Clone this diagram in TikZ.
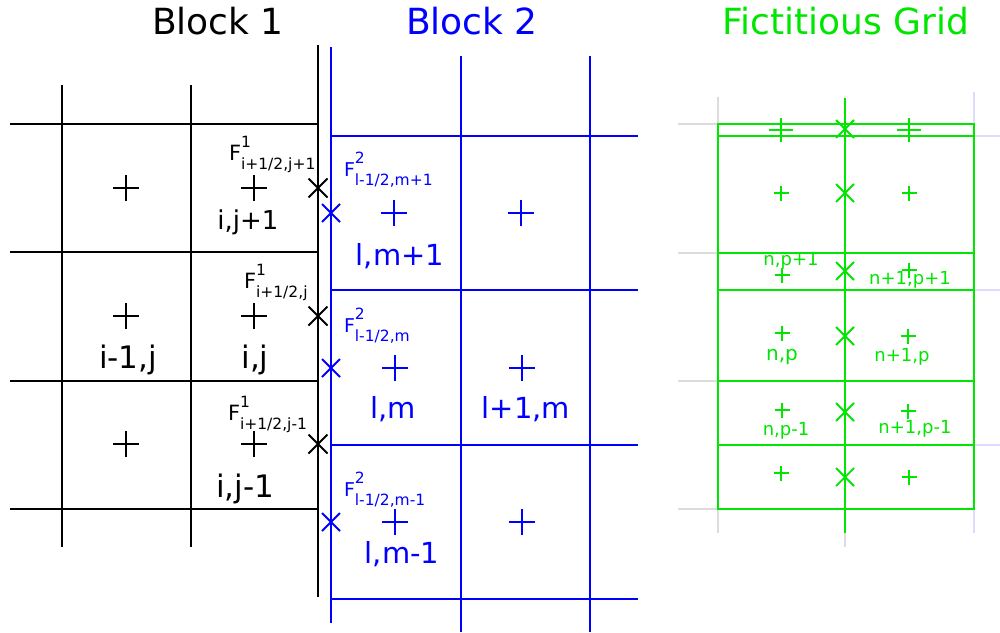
\documentclass[tikz,border=0pt]{standalone}
\usepackage{fontspec}
\setmainfont{DejaVu Sans}
\definecolor{cblue}{HTML}{0000FF}
\definecolor{cgreen}{HTML}{00E600}
\definecolor{cfaint}{HTML}{DCDCDC}
\definecolor{cfaintb}{HTML}{DCDCFF}
\tikzset{
  every picture/.style={line width=2pt},
  lbl/.style={anchor=base, inner sep=0pt, font=\fontsize{#1}{#1}\selectfont},
  ttl/.style={lbl=36},
  flx/.style={anchor=base west, inner sep=0pt, font=\fontsize{#1}{#1}\selectfont},
  mk/.style={line width=1.8pt},
}
\begin{document}
\begin{tikzpicture}[x=1pt, y=-1pt]
  \newcommand{\plusmk}[4]{\draw[mk, #1] (#2-#4,#3) -- (#2+#4,#3) (#2,#3-#4) -- (#2,#3+#4);}
  \newcommand{\crossmk}[4]{\draw[mk, #1] (#2-#4,#3-#4) -- (#2+#4,#3+#4) (#2-#4,#3+#4) -- (#2+#4,#3-#4);}
  \newcommand{\flux}[2]{F\rlap{\raisebox{13pt}{\fontsize{15.5}{16}\selectfont #1}}\raisebox{-9pt}{\fontsize{15.5}{16}\selectfont #2}}
  \fill[white] (0,0) rectangle (1000,632);
  \useasboundingbox (0,0) rectangle (1000,632);

  % titles
  \node[ttl] (t1) at (218,34) {Block 1};
  \node[ttl, text=cblue] (t2) at (472,34) {Block 2};
  \node[ttl, text=cgreen] (t3) at (846,34) {Fictitious Grid};

  % block 1
  \draw (62,85) -- (62,547) (191,85) -- (191,547) (318,45) -- (318,597);
  \draw (10,124) -- (318,124) (10,252) -- (318,252) (10,381) -- (318,381) (10,509) -- (318,509);
  \plusmk{}{126}{188}{13} \plusmk{}{254}{188}{13}
  \plusmk{}{126}{316}{13} \plusmk{}{254}{316}{13}
  \plusmk{}{126}{444}{13} \plusmk{}{254}{444}{13}
  \crossmk{}{318}{188}{9.5} \crossmk{}{318}{316}{9.5} \crossmk{}{318}{444}{9.5}
  \node[lbl=26] (ijp) at (248,229) {i,j+1};
  \node[lbl=31] (imj) at (128,368) {i-1,j};
  \node[lbl=31] (ij) at (255,368) {i,j};
  \node[lbl=31] (ijm) at (245,497) {i,j-1};
  \node[flx=21] (fijp) at (228,160) {\flux{1}{i+1/2,j+1}};
  \node[flx=21] (fij) at (243,288) {\flux{1}{i+1/2,j}};
  \node[flx=21] (fijm) at (227,420) {\flux{1}{i+1/2,j-1}};

  % block 2
  \draw[cblue] (331,47) -- (331,623) (461,56) -- (461,632) (590,56) -- (590,632);
  \draw[cblue] (331,136) -- (638,136) (331,290) -- (638,290) (331,445) -- (638,445) (331,599) -- (638,599);
  \plusmk{cblue}{394}{213}{13} \plusmk{cblue}{521}{213}{13}
  \plusmk{cblue}{395}{368}{13} \plusmk{cblue}{522}{368}{13}
  \plusmk{cblue}{395}{522}{13} \plusmk{cblue}{522}{522}{13}
  \crossmk{cblue}{331}{213}{9} \crossmk{cblue}{331}{368}{9} \crossmk{cblue}{331}{522}{9}
  \node[lbl=29, text=cblue] (lmp) at (400,265) {l,m+1};
  \node[lbl=29, text=cblue] (lm) at (393,418) {l,m};
  \node[lbl=29, text=cblue] (lpm) at (526,418) {l+1,m};
  \node[lbl=29, text=cblue] (lmm) at (402,563) {l,m-1};
  \node[flx=19, text=cblue] (flmp) at (343,176) {\flux{2}{l-1/2,m+1}};
  \node[flx=19, text=cblue] (flm) at (343,332) {\flux{2}{l-1/2,m}};
  \node[flx=19, text=cblue] (flmm) at (343,496) {\flux{2}{l-1/2,m-1}};

  % fictitious grid
  \draw[cfaint] (678,124) -- (718,124) (678,253) -- (718,253) (678,381) -- (718,381) (678,509) -- (718,509)
    (718,97) -- (718,533) (845,98) -- (845,547);
  \draw[cfaintb] (974,92) -- (974,533) (974,136) -- (1000,136) (974,290) -- (1000,290) (974,445) -- (1000,445);
  \draw[cgreen] (718,124) rectangle (974,509);
  \draw[cgreen] (718,136) -- (974,136) (718,253) -- (974,253) (718,290) -- (974,290) (718,381) -- (974,381) (718,445) -- (974,445);
  \draw[cgreen] (845,98) -- (845,533);
  \plusmk{cgreen}{781}{130}{12} \plusmk{cgreen}{909}{130}{12}
  \plusmk{cgreen}{781}{193}{7.5} \plusmk{cgreen}{909}{193}{7.5}
  \plusmk{cgreen}{782}{275}{7.5} \plusmk{cgreen}{909}{270}{7.5}
  \plusmk{cgreen}{782}{333}{7.5} \plusmk{cgreen}{908}{336}{7.5}
  \plusmk{cgreen}{782}{410}{7.5} \plusmk{cgreen}{908}{411}{7.5}
  \plusmk{cgreen}{781}{473}{7.5} \plusmk{cgreen}{909}{477}{7.5}
  \crossmk{cgreen}{845}{129}{9} \crossmk{cgreen}{845}{193}{9} \crossmk{cgreen}{845}{271}{9}
  \crossmk{cgreen}{845}{336}{9} \crossmk{cgreen}{845}{412}{9} \crossmk{cgreen}{845}{477}{9}
  \node[lbl=18, text=cgreen] (npp) at (791,265) {n,p+1};
  \node[lbl=18, text=cgreen] (nppp) at (910,284) {n+1,p+1};
  \node[lbl=20, text=cgreen] (np) at (782,360) {n,p};
  \node[lbl=18, text=cgreen] (npn) at (902,361) {n+1,p};
  \node[lbl=18, text=cgreen] (npm) at (786,435) {n,p-1};
  \node[lbl=18, text=cgreen] (npnm) at (915,433) {n+1,p-1};
\end{tikzpicture}
\end{document}
